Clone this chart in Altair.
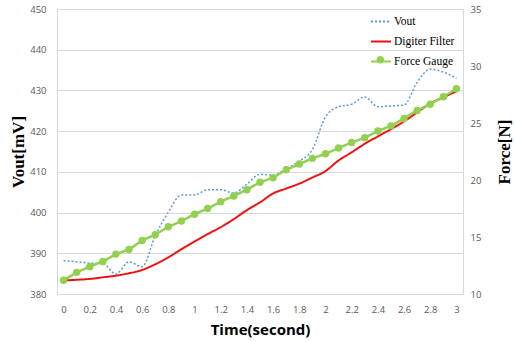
import altair as alt
import pandas as pd

time_s = [0.0, 0.1, 0.2, 0.3, 0.4, 0.5, 0.6, 0.7, 0.8, 0.9, 1.0,
          1.1, 1.2, 1.3, 1.4, 1.5, 1.6, 1.7, 1.8, 1.9, 2.0,
          2.1, 2.2, 2.3, 2.4, 2.5, 2.6, 2.7, 2.8, 2.9, 3.0]

vout = [388.2, 387.9, 387.6, 387.5, 384.9, 387.9, 386.7, 394.3, 400.1, 404.3, 404.3,
        405.6, 405.6, 404.8, 407.0, 409.4, 409.2, 410.8, 412.6, 415.5, 423.5,
        426.0, 426.6, 428.4, 426.0, 426.2, 426.4, 432.0, 435.2, 434.5, 433.0]

digiter_filter = [383.3, 383.5, 383.7, 384.1, 384.5, 385.1, 385.9, 387.3, 389.0, 391.0, 392.9,
                  394.7, 396.4, 398.4, 400.6, 402.5, 404.7, 405.9, 407.1, 408.6, 410.2,
                  412.8, 414.8, 416.9, 418.7, 420.5, 422.4, 424.6, 426.8, 428.3, 429.8]

force_gauge = [11.2, 11.9, 12.4, 12.85, 13.5, 13.9, 14.7, 15.2, 15.9, 16.4, 17.0,
               17.5, 18.1, 18.6, 19.15, 19.8, 20.2, 20.9, 21.4, 21.9, 22.3,
               22.8, 23.3, 23.7, 24.3, 24.75, 25.4, 26.1, 26.65, 27.3, 28.0]

x_ticks = [0, 0.2, 0.4, 0.6, 0.8, 1, 1.2, 1.4, 1.6, 1.8, 2, 2.2, 2.4, 2.6, 2.8, 3]
mv_ticks = [380, 390, 400, 410, 420, 430, 440, 450]
n_ticks = [10, 15, 20, 25, 30, 35]

series_names = ["Vout", "Digiter Filter", "Force Gauge"]
series_colors = ["#5b9bd5", "#ee1111", "#92d050"]
series_dashes = [[2, 2], [1, 0], [1, 0]]

df_v = pd.DataFrame({"t": time_s, "series": "Vout", "value": vout})
df_d = pd.DataFrame({"t": time_s, "series": "Digiter Filter", "value": digiter_filter})
df_f = pd.DataFrame({"t": time_s, "series": "Force Gauge", "value": force_gauge})

LABEL_FONT = "Open Sans"
SERIF = "Liberation Serif"

x_enc = alt.X(
    "t:Q",
    scale=alt.Scale(domain=[-0.05, 3.05], nice=False, zero=False),
    axis=alt.Axis(
        values=x_ticks, format="~g", title="Time(second)",
        titleFont=LABEL_FONT, titleFontSize=15, titleFontWeight="bold", titleColor="#000000",
        titleX=203, titleY=40, titleBaseline="alphabetic", titleAlign="center",
        labelFont=LABEL_FONT, labelFontSize=9.5, labelColor="#595959",
        labelPadding=10, ticks=False, tickSize=0, domain=False, grid=False,
    ),
)

y_left = alt.Y(
    "value:Q",
    scale=alt.Scale(domain=[380, 450], nice=False, zero=False),
    axis=alt.Axis(
        values=mv_ticks, title="Vout[mV]",
        titleFont=SERIF, titleFontSize=17, titleFontWeight="bold", titleColor="#000000",
        titleAngle=270, titleX=-39, titleY=142.5, titleAlign="center", titleBaseline="middle",
        labelFont=LABEL_FONT, labelFontSize=9.5, labelColor="#595959",
        labelPadding=11, ticks=False, tickSize=0, domain=False,
        grid=True, gridColor="#d9d9d9", gridWidth=1,
    ),
)

y_right = alt.Y(
    "value:Q",
    scale=alt.Scale(domain=[10, 35], nice=False, zero=False),
    axis=alt.Axis(
        orient="right", values=n_ticks, title="Force[N]",
        titleFont=SERIF, titleFontSize=17, titleFontWeight="bold", titleColor="#000000",
        titleAngle=270, titleX=41, titleY=142.5, titleAlign="center", titleBaseline="middle",
        labelFont=LABEL_FONT, labelFontSize=9.5, labelColor="#595959",
        labelPadding=7, ticks=False, tickSize=0, domain=False, grid=False,
    ),
)

line_legend = alt.Legend(
    title=None, orient="none", legendX=313, legendY=1.5, direction="vertical",
    symbolType="stroke", symbolSize=400, symbolStrokeWidth=2,
    labelFont=SERIF, labelFontSize=11.5, labelColor="#000000", labelOffset=2,
    rowPadding=3, padding=0,
)

dot_legend = alt.Legend(
    title=None, orient="none", legendX=319.3, legendY=46.8, direction="vertical",
    symbolType="circle", symbolSize=55, symbolStrokeWidth=0,
    labelFontSize=1, labelOpacity=0, labelOffset=0, padding=0,
)

color_scale = alt.Scale(domain=series_names, range=series_colors)
dash_scale = alt.Scale(domain=series_names, range=series_dashes)
fill_scale = alt.Scale(domain=["Force Gauge"], range=["#92d050"])

vout_line = alt.Chart(df_v).mark_line(strokeWidth=1.5, interpolate="monotone").encode(
    x=x_enc, y=y_left,
    color=alt.Color("series:N", scale=color_scale, legend=line_legend),
    strokeDash=alt.StrokeDash("series:N", scale=dash_scale, legend=line_legend),
)

filt_line = alt.Chart(df_d).mark_line(strokeWidth=2, interpolate="monotone").encode(
    x=x_enc, y=y_left,
    color=alt.Color("series:N", scale=color_scale, legend=line_legend),
    strokeDash=alt.StrokeDash("series:N", scale=dash_scale, legend=line_legend),
)

force_line = alt.Chart(df_f).mark_line(strokeWidth=2.5).encode(
    x=x_enc, y=y_right,
    color=alt.Color("series:N", scale=color_scale, legend=line_legend),
)
force_pts = alt.Chart(df_f).mark_point(filled=True, size=55, opacity=1).encode(
    x=x_enc, y=y_right,
    fill=alt.Fill("series:N", scale=fill_scale, legend=dot_legend),
)

left = alt.layer(vout_line, filt_line)
right = alt.layer(force_line, force_pts)

chart = alt.layer(left, right).resolve_scale(y="independent").properties(
    width=406, height=285,
    padding={"left": 57, "top": 9, "right": 53, "bottom": 48},
    autosize="none", background="white",
).configure_view(stroke="#d9d9d9", strokeWidth=1)

chart.save("out.html", embed_options={"renderer": "svg", "actions": False})
